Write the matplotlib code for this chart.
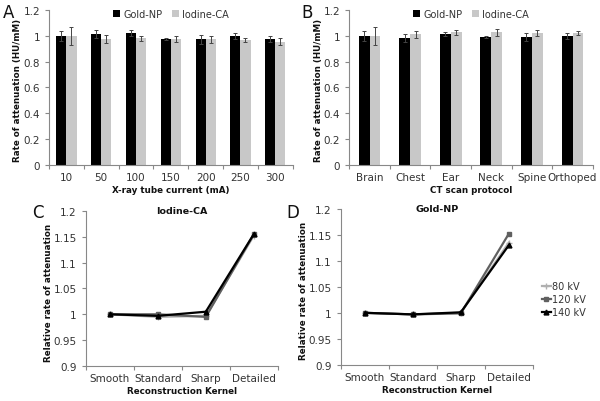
import matplotlib
matplotlib.use("Agg")
import matplotlib.pyplot as plt
import numpy as np

plt.rcParams['font.family'] = ['DejaVu Sans']

# Panel A
currents = ['10', '50', '100', '150', '200', '250', '300']
a_gold = [1.00, 1.012, 1.022, 0.972, 0.972, 0.998, 0.975]
a_gold_err = [0.04, 0.03, 0.025, 0.008, 0.035, 0.025, 0.025]
a_iod = [1.00, 0.975, 0.98, 0.975, 0.972, 0.965, 0.955]
a_iod_err = [0.07, 0.03, 0.02, 0.025, 0.025, 0.015, 0.025]

# Panel B
protocols = ['Brain', 'Chest', 'Ear', 'Neck', 'Spine', 'Orthoped']
b_gold = [1.00, 0.98, 1.013, 0.987, 0.993, 0.997]
b_gold_err = [0.04, 0.03, 0.015, 0.008, 0.03, 0.022]
b_iod = [1.00, 1.012, 1.025, 1.025, 1.022, 1.02]
b_iod_err = [0.07, 0.028, 0.018, 0.03, 0.022, 0.018]

# Panels C, D
kernels = ['Smooth', 'Standard', 'Sharp', 'Detailed']
series_names = ['80 kV', '120 kV', '140 kV']
c_vals = [[1.0, 0.995, 0.997, 1.152],
          [1.0, 1.0, 0.995, 1.155],
          [1.0, 0.997, 1.005, 1.155]]
d_vals = [[1.0, 0.997, 1.0, 1.135],
          [1.0, 0.997, 0.999, 1.152],
          [1.0, 0.997, 1.001, 1.130]]

GOLD = '#000000'
IOD = '#c8c8c8'
AXC = '#888888'
TXT = '#333333'
LBL = 6.3
TICK = 7.5
line_colors = ['#b0b0b0', '#606060', '#000000']
line_markers = ['+', 's', '^']

fig = plt.figure(figsize=(6.0, 4.02), dpi=100)

def style(ax):
    for s in ['top', 'right']:
        ax.spines[s].set_visible(False)
    for s in ['left', 'bottom']:
        ax.spines[s].set_color(AXC)
        ax.spines[s].set_linewidth(0.8)
    ax.tick_params(axis='both', colors=AXC, labelcolor=TXT, labelsize=TICK, length=3, width=0.8)

def bar_panel(rect, cats, g, ge, i, ie, xlabel, bw):
    ax = fig.add_axes(rect)
    x = np.arange(len(cats))
    ax.bar(x - bw / 2, g, bw, color=GOLD, yerr=ge, capsize=1.5,
           error_kw=dict(ecolor='#444444', elinewidth=0.7, capthick=0.7), label='Gold-NP')
    ax.bar(x + bw / 2, i, bw, color=IOD, yerr=ie, capsize=1.5,
           error_kw=dict(ecolor='#444444', elinewidth=0.7, capthick=0.7), label='Iodine-CA')
    ax.set_xlim(-0.5, len(cats) - 0.5)
    ax.set_ylim(0, 1.2)
    ax.set_yticks([0, 0.2, 0.4, 0.6, 0.8, 1.0, 1.2])
    ax.set_yticklabels(['0', '0.2', '0.4', '0.6', '0.8', '1', '1.2'])
    ax.set_xticks(np.arange(len(cats) + 1) - 0.5)
    ax.set_xticklabels([])
    ax.set_xticks(x, minor=True)
    ax.set_xticklabels(cats, minor=True)
    style(ax)
    ax.tick_params(axis='x', which='minor', length=0, labelsize=TICK, labelcolor=TXT, pad=5)
    ax.set_xlabel(xlabel, fontsize=LBL, fontweight='bold', color='#111111', labelpad=2)
    ax.set_ylabel('Rate of attenuation (HU/mM)', fontsize=LBL, fontweight='bold', color='#111111')
    ax.yaxis.set_label_coords(-0.109, 0.49)
    ax.legend(loc='upper center', bbox_to_anchor=(0.5, 1.06), ncol=2, frameon=False,
              fontsize=7, handlelength=0.7, handleheight=0.7, handletextpad=0.3,
              columnspacing=1.0, labelcolor=TXT)
    return ax

bar_panel([0.0817, 0.587, 0.406, 0.386], currents, a_gold, a_gold_err, a_iod, a_iod_err,
          'X-ray tube current (mA)', 0.29)
bar_panel([0.582, 0.587, 0.406, 0.386], protocols, b_gold, b_gold_err, b_iod, b_iod_err,
          'CT scan protocol', 0.27)

def line_panel(rect, vals, title, legend):
    ax = fig.add_axes(rect)
    x = np.arange(len(kernels))
    for v, c, m, n in zip(vals, line_colors, line_markers, series_names):
        ax.plot(x, v, color=c, marker=m, markersize=3.5 if m != '+' else 4,
                markeredgewidth=1.0, linewidth=1.6, label=n)
    ax.set_xlim(-0.5, len(kernels) - 0.5)
    ax.set_ylim(0.9, 1.2)
    ax.set_yticks([0.9, 0.95, 1.0, 1.05, 1.1, 1.15, 1.2])
    ax.set_yticklabels(['0.9', '0.95', '1', '1.05', '1.1', '1.15', '1.2'])
    ax.set_xticks(np.arange(len(kernels) + 1) - 0.5)
    ax.set_xticklabels([])
    ax.set_xticks(x, minor=True)
    ax.set_xticklabels(kernels, minor=True)
    style(ax)
    ax.tick_params(axis='x', which='minor', length=0, labelsize=TICK, labelcolor=TXT, pad=5)
    ax.set_xlabel('Reconstruction Kernel', fontsize=LBL, fontweight='bold', color='#111111', labelpad=2)
    ax.set_ylabel('Relative rate of attenuation', fontsize=LBL, fontweight='bold', color='#111111')
    ax.yaxis.set_label_coords(-0.172, 0.48)
    ax.set_title(title, fontsize=6.8, fontweight='bold', color='#111111', pad=0, y=0.985)
    if legend:
        ax.legend(loc='center left', bbox_to_anchor=(1.0, 0.42), frameon=False, fontsize=7,
                  handlelength=1.0, handletextpad=0.1, labelspacing=0.3, labelcolor=TXT)
    return ax

line_panel([0.143, 0.087, 0.32, 0.386], c_vals, 'Iodine-CA', False)
line_panel([0.568, 0.090, 0.32, 0.388], d_vals, 'Gold-NP', True)

for lbl, x, y in [('A', 0.004, 0.968), ('B', 0.503, 0.968), ('C', 0.054, 0.470), ('D', 0.477, 0.470)]:
    fig.text(x, y, lbl, fontsize=12, color='#111111', va='center', ha='left')

fig.savefig('out.png', dpi=100, facecolor='white')
